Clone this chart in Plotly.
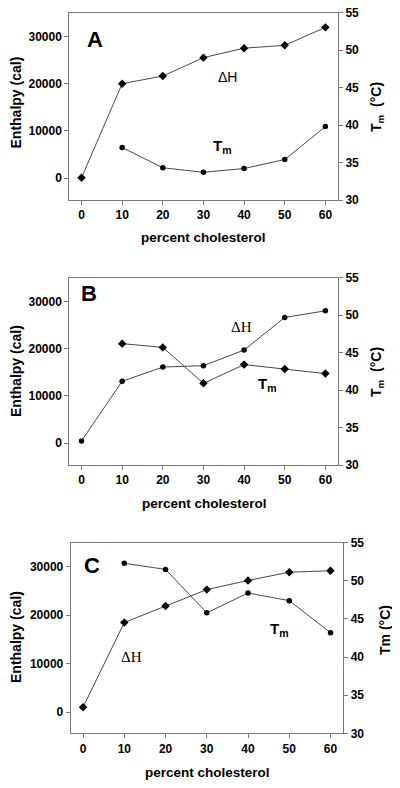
import plotly.graph_objects as go

# ---- data ----
pct = [0, 10, 20, 30, 40, 50, 60]
pct_tm = [10, 20, 30, 40, 50, 60]

dH_A = [100, 20000, 21600, 25500, 27500, 28100, 31900]
tm_A = [37.0, 34.3, 33.7, 34.2, 35.4, 39.8]

dH_B = [500, 13100, 16100, 16400, 19700, 26600, 28000]
tm_B = [46.2, 45.7, 40.9, 43.4, 42.8, 42.2]

dH_C = [1000, 18500, 21900, 25300, 27200, 28900, 29200]
tm_C = [52.3, 51.5, 45.8, 48.4, 47.4, 43.2]

panel_letters = ["A", "B", "C"]
x_ticks = [0, 10, 20, 30, 40, 50, 60]
left_ticks = [0, 10000, 20000, 30000]
right_ticks = [30, 35, 40, 45, 50, 55]

# the page body has an 8px margin, so the figure is drawn 8px in from the window edge
OFF = 8
W, H = 400 - OFF, 788 - OFF
FONT = "Arial, Liberation Sans, sans-serif"
SERIF = "Times New Roman, Liberation Serif, serif"
AXC = "#7a7a7a"
LINEC = "#333333"

def px_x(p):
    return (p - OFF) / W

def px_y(p):
    return 1 - (p - OFF) / H

# panel geometry in window pixels: (left, right, top, bottom)
geo = [
    (69.3, 338.0, 12.7, 200.0),
    (69.3, 338.0, 277.7, 465.0),
    (70.7, 343.3, 542.7, 733.3),
]

fig = go.Figure()

series = [
    (dH_A, tm_A, "diamond", "circle"),
    (dH_B, tm_B, "circle", "diamond"),
    (dH_C, tm_C, "diamond", "circle"),
]

layout = dict(
    template="none",
    width=W, height=H,
    margin=dict(l=0, r=0, t=0, b=0, pad=0),
    paper_bgcolor="white", plot_bgcolor="white",
    showlegend=False,
    font=dict(family=FONT, color="black"),
)

annotations = []
for i, (l, r, t, b) in enumerate(geo):
    xn = "x" if i == 0 else f"x{i+1}"
    yl = "y" if i == 0 else f"y{2*i+1}"
    yr = f"y{2*i+2}"
    xkey = "xaxis" if i == 0 else f"xaxis{i+1}"
    ylkey = "yaxis" if i == 0 else f"yaxis{2*i+1}"
    yrkey = f"yaxis{2*i+2}"

    dH, tm, symH, symT = series[i]
    fig.add_trace(go.Scatter(x=pct, y=dH, xaxis=xn, yaxis=yl, mode="lines+markers",
                             line=dict(color=LINEC, width=0.9),
                             marker=dict(symbol=symH, size=6.5 if symH == "diamond" else 5.5,
                                         color="black", line=dict(width=0))))
    fig.add_trace(go.Scatter(x=pct_tm, y=tm, xaxis=xn, yaxis=yr, mode="lines+markers",
                             line=dict(color=LINEC, width=0.9),
                             marker=dict(symbol=symT, size=6.5 if symT == "diamond" else 5.5,
                                         color="black", line=dict(width=0))))

    tickfont = dict(family=FONT, size=12, color="black", weight="bold")
    common = dict(ticks="outside", ticklen=4, tickcolor=AXC, tickwidth=1,
                  automargin=False, ticklabeloverflow="allow",
                  showline=True, linecolor=AXC, linewidth=1,
                  showgrid=False, zeroline=False, tickfont=tickfont)
    layout[xkey] = dict(domain=[px_x(l), px_x(r)], anchor=yl, range=[-3, 63.1],
                        tickvals=x_ticks, mirror=True, **common)
    ylo = -4600 if i < 2 else -4400
    layout[ylkey] = dict(domain=[px_y(b), px_y(t)], anchor=xn, range=[ylo, 35000],
                         tickvals=left_ticks, tickformat="d", **common)
    layout[yrkey] = dict(overlaying=yl, anchor=xn, side="right", range=[30, 55],
                         tickvals=right_ticks, **common)

# axis titles (window pixel positions)
left_title_pos = [(15.5, 103), (16, 371), (16, 637)]
right_title_pos = [(377, 107), (377, 372), (385, 630)]
x_title_pos = [(203, 237), (204, 503), (207.5, 772)]
right_titles = ["<b>T<sub>m</sub>  (°C)</b>", "<b>T<sub>m</sub>  (°C)</b>", "<b>Tm (°C)</b>"]
for i in range(3):
    annotations.append(dict(x=px_x(left_title_pos[i][0]), y=px_y(left_title_pos[i][1]),
                            xref="paper", yref="paper", text="<b>Enthalpy (cal)</b>",
                            textangle=-90, showarrow=False,
                            font=dict(family=FONT, size=14, color="black"),
                            xanchor="center", yanchor="middle"))
    annotations.append(dict(x=px_x(right_title_pos[i][0]), y=px_y(right_title_pos[i][1]),
                            xref="paper", yref="paper", text=right_titles[i],
                            textangle=-90, showarrow=False,
                            font=dict(family=FONT, size=14, color="black"),
                            xanchor="center", yanchor="middle"))
    annotations.append(dict(x=px_x(x_title_pos[i][0]), y=px_y(x_title_pos[i][1]),
                            xref="paper", yref="paper", text="<b>percent cholesterol</b>",
                            showarrow=False,
                            font=dict(family=FONT, size=13.5, color="black"),
                            xanchor="center", yanchor="middle"))

# in-plot labels (data coordinates)
letter_pos = [(3.4, 29300), (1.9, 31600), (2.1, 30300)]
dh_pos = [(35.8, 21500), (39.3, 24600), (11.7, 11300)]
tm_pos = [(34.8, 6700), (45.7, 12500), (47.6, 17150)]
for i in range(3):
    xn = "x" if i == 0 else f"x{i+1}"
    yl = "y" if i == 0 else f"y{2*i+1}"
    annotations.append(dict(x=letter_pos[i][0], y=letter_pos[i][1], xref=xn, yref=yl,
                            text=f"<b>{panel_letters[i]}</b>", showarrow=False,
                            font=dict(family=FONT, size=22, color="black")))
    annotations.append(dict(x=dh_pos[i][0], y=dh_pos[i][1], xref=xn, yref=yl,
                            text="ΔH", showarrow=False,
                            font=dict(family=FONT if i == 0 else SERIF,
                                      size=14 if i == 0 else 15, color="black")))
    annotations.append(dict(x=tm_pos[i][0], y=tm_pos[i][1], xref=xn, yref=yl,
                            text="<b>T<sub>m</sub></b>", showarrow=False,
                            font=dict(family=FONT, size=15, color="black")))

layout["annotations"] = annotations
fig.update_layout(**layout)
fig.write_html("out.html")
